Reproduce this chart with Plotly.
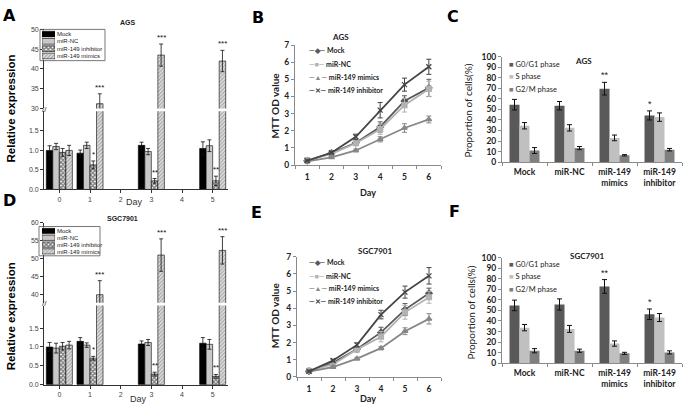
import plotly.graph_objects as go

W, H = 689, 415

ARIAL = "Liberation Sans, Arial, sans-serif"
CALI = "Lato, Open Sans, sans-serif"

# ---------- A / D : miR-149 relative expression ----------
days = [0, 1, 3, 5]
expr_names = ["Mock", "miR-NC", "miR-149 inhibitor", "miR-149 mimics"]

ags_mock = [1.00, 0.93, 1.13, 1.05]
ags_mock_err = [0.12, 0.08, 0.08, 0.17]
ags_nc = [1.10, 1.13, 0.97, 1.12]
ags_nc_err = [0.08, 0.08, 0.08, 0.15]
ags_inh = [0.95, 0.63, 0.22, 0.22]
ags_inh_err = [0.10, 0.10, 0.06, 0.12]
ags_mim = [1.00, 31.2, 43.5, 42.0]
ags_mim_err = [0.13, 2.5, 2.8, 2.7]

sgc_mock = [1.00, 1.15, 1.08, 1.10]
sgc_mock_err = [0.12, 0.10, 0.08, 0.15]
sgc_nc = [0.97, 1.05, 1.12, 1.07]
sgc_nc_err = [0.13, 0.06, 0.08, 0.13]
sgc_inh = [1.02, 0.70, 0.28, 0.22]
sgc_inh_err = [0.10, 0.05, 0.05, 0.05]
sgc_mim = [1.05, 40.0, 51.0, 52.3]
sgc_mim_err = [0.10, 3.9, 4.5, 3.8]

inh_stars = ["", "*", "**", "**"]
mim_stars = ["", "***", "***", "***"]

# ---------- B / E : MTT assay ----------
mtt_days = ["1", "2", "3", "4", "5", "6"]
mtt_names = ["Mock", "miR-NC", "miR-149 mimics", "miR-149 inhibitor"]

ags_mtt_mock = [0.25, 0.70, 1.30, 2.22, 3.74, 4.50]
ags_mtt_mock_err = [0.03, 0.05, 0.10, 0.30, 0.30, 0.50]
ags_mtt_nc = [0.28, 0.65, 1.27, 2.09, 3.49, 4.44]
ags_mtt_nc_err = [0.03, 0.05, 0.10, 0.30, 0.40, 0.45]
ags_mtt_mim = [0.22, 0.45, 0.85, 1.50, 2.16, 2.66]
ags_mtt_mim_err = [0.03, 0.05, 0.08, 0.15, 0.25, 0.20]
ags_mtt_inh = [0.25, 0.72, 1.65, 3.20, 4.69, 5.73]
ags_mtt_inh_err = [0.03, 0.06, 0.15, 0.45, 0.38, 0.44]

sgc_mtt_mock = [0.33, 0.82, 1.62, 2.59, 3.92, 4.87]
sgc_mtt_mock_err = [0.04, 0.08, 0.15, 0.30, 0.35, 0.30]
sgc_mtt_nc = [0.35, 0.72, 1.60, 2.34, 3.76, 4.64]
sgc_mtt_nc_err = [0.04, 0.06, 0.15, 0.30, 0.40, 0.35]
sgc_mtt_mim = [0.30, 0.57, 1.06, 1.67, 2.66, 3.38]
sgc_mtt_mim_err = [0.03, 0.05, 0.08, 0.10, 0.20, 0.30]
sgc_mtt_inh = [0.32, 0.95, 1.86, 3.63, 4.94, 5.89]
sgc_mtt_inh_err = [0.04, 0.08, 0.12, 0.25, 0.35, 0.48]

# ---------- C / F : cell cycle ----------
groups = ["Mock", "miR-NC", "miR-149<br>mimics", "miR-149<br>inhibitor"]
phase_names = ["G0/G1 phase", "S phase", "G2/M phase"]

ags_g1 = [54.5, 53.5, 69.7, 44.3]
ags_g1_err = [5.0, 4.0, 6.0, 4.3]
ags_s = [34.5, 32.5, 23.0, 42.7]
ags_s_err = [3.0, 3.0, 2.7, 4.0]
ags_g2 = [11.0, 13.3, 6.5, 11.8]
ags_g2_err = [2.8, 1.5, 0.6, 1.2]

sgc_g1 = [54.8, 55.7, 72.8, 46.4]
sgc_g1_err = [5.0, 5.3, 6.5, 5.0]
sgc_s = [33.7, 32.5, 18.6, 43.3]
sgc_s_err = [3.0, 3.3, 2.5, 3.8]
sgc_g2 = [11.8, 11.8, 9.3, 10.2]
sgc_g2_err = [2.0, 1.5, 1.0, 1.5]

g1_stars = ["", "", "**", "*"]


def xdom(left, right):
    return [left / W, right / W]


def ydom(top, bottom):
    return [1 - bottom / H, 1 - top / H]


expr_styles = [
    dict(color="black", line=dict(color="black", width=0.6)),
    dict(color="#c8c8c8", line=dict(color="black", width=0.6)),
    dict(color="white", line=dict(color="black", width=0.6),
         pattern=dict(shape="x", fgcolor="#000", bgcolor="white", size=3, solidity=0.7)),
    dict(color="#dcdcdc", line=dict(color="black", width=0.6),
         pattern=dict(shape="/", fgcolor="#555", bgcolor="#e2e2e2", size=2.6, solidity=0.4)),
]
mtt_styles = {
    "Mock": dict(color="#5a5a5a", symbol="diamond", glyph="◆"),
    "miR-NC": dict(color="#b2b2b2", symbol="square", glyph="■"),
    "miR-149 mimics": dict(color="#878787", symbol="triangle-up", glyph="▲"),
    "miR-149 inhibitor": dict(color="#444444", symbol="x-thin", glyph="✕"),
}
phase_colors = ["#595959", "#c0c0c0", "#7f7f7f"]

fig = go.Figure()
ann = []
shapes = []

BAR_W = 0.2125


def expr_panel(series, errs, xa, ya_low, ya_up):
    for i, (vals, err) in enumerate(zip(series, errs)):
        off = (i - 2) * BAR_W
        for ya in (ya_low, ya_up):
            fig.add_trace(go.Bar(
                x=days, y=vals, width=BAR_W, offset=off,
                marker=expr_styles[i], xaxis=xa, yaxis=ya,
                error_y=dict(type="data", array=err, color="#111", thickness=0.8, width=2),
            ))
    # significance marks
    for i, stars, ya in ((2, inh_stars, ya_low), (3, mim_stars, ya_up)):
        for d, v, e, s in zip(days, series[i], errs[i], stars):
            if s:
                ann.append(dict(x=d + (i - 2) * BAR_W + BAR_W / 2, y=v + e, xref=xa, yref=ya,
                                text=s, showarrow=False, yanchor="bottom", yshift=0,
                                font=dict(family=ARIAL, size=8, color="#111")))


expr_panel([ags_mock, ags_nc, ags_inh, ags_mim],
           [ags_mock_err, ags_nc_err, ags_inh_err, ags_mim_err], "x", "y", "y2")
expr_panel([sgc_mock, sgc_nc, sgc_inh, sgc_mim],
           [sgc_mock_err, sgc_nc_err, sgc_inh_err, sgc_mim_err], "x4", "y5", "y6")

# legend swatches for A / D (real patterned bars)
for xa, ya in (("x7", "y9"), ("x8", "y10")):
    for i, name in enumerate(expr_names):
        fig.add_trace(go.Bar(y=[name], x=[1], orientation="h", width=0.78,
                             marker=expr_styles[i], xaxis=xa, yaxis=ya))


def mtt_panel(series, errs, xa, ya):
    for name, vals, err in zip(mtt_names, series, errs):
        st = mtt_styles[name]
        fig.add_trace(go.Scatter(
            x=mtt_days, y=vals, mode="lines+markers", xaxis=xa, yaxis=ya,
            line=dict(color=st["color"], width=1.8),
            marker=dict(symbol=st["symbol"], size=5, color=st["color"],
                        line=dict(color=st["color"], width=1.2)),
            error_y=dict(type="data", array=err, color=st["color"], thickness=1, width=2.5),
        ))


mtt_panel([ags_mtt_mock, ags_mtt_nc, ags_mtt_mim, ags_mtt_inh],
          [ags_mtt_mock_err, ags_mtt_nc_err, ags_mtt_mim_err, ags_mtt_inh_err], "x2", "y3")
mtt_panel([sgc_mtt_mock, sgc_mtt_nc, sgc_mtt_mim, sgc_mtt_inh],
          [sgc_mtt_mock_err, sgc_mtt_nc_err, sgc_mtt_mim_err, sgc_mtt_inh_err], "x5", "y7")

PH_W = 0.222


def cycle_panel(series, errs, xa, ya):
    for i, (vals, err) in enumerate(zip(series, errs)):
        off = -1.5 * PH_W + i * PH_W
        fig.add_trace(go.Bar(
            x=groups, y=vals, width=PH_W, offset=off, xaxis=xa, yaxis=ya,
            marker=dict(color=phase_colors[i], line=dict(width=0)),
            error_y=dict(type="data", array=err, color="#111", thickness=1, width=2.5),
        ))
    for k, (v, e, s) in enumerate(zip(series[0], errs[0], g1_stars)):
        if s:
            ann.append(dict(x=k - 1.5 * PH_W + PH_W / 2, y=v + e, xref=xa, yref=ya, text=s,
                            showarrow=False, yanchor="bottom", yshift=0,
                            font=dict(family=ARIAL, size=9, color="#222")))


cycle_panel([ags_g1, ags_s, ags_g2], [ags_g1_err, ags_s_err, ags_g2_err], "x3", "y4")
cycle_panel([sgc_g1, sgc_s, sgc_g2], [sgc_g1_err, sgc_s_err, sgc_g2_err], "x6", "y8")

origin_ax = dict(showgrid=False, zeroline=False, showline=True, linecolor="#333", linewidth=0.8,
                 ticks="outside", ticklen=3, tickcolor="#333", tickwidth=0.8,
                 tickfont=dict(family=ARIAL, size=7, color="#444"))
excel_ax = dict(showgrid=False, zeroline=False, showline=True, linecolor="#8a8a8a", linewidth=1,
                ticks="outside", ticklen=3, tickcolor="#8a8a8a", tickwidth=1,
                tickfont=dict(family=CALI, size=8.5, color="#222", weight="bold"))
legend_x = dict(visible=False, range=[0, 1], fixedrange=True)
legend_y = dict(type="category", autorange="reversed", side="right", showgrid=False,
                zeroline=False, showline=False, ticks="", ticklabelstandoff=1,
                tickmode="array", tickvals=expr_names, ticktext=expr_names,
                tickfont=dict(family=ARIAL, size=6, color="#222"))

layout_axes = dict(
    # A
    xaxis=dict(domain=xdom(44, 228), anchor="y", range=[-0.5, 5.5], tickvals=[0, 1, 2, 3, 4, 5], **origin_ax),
    yaxis=dict(domain=ydom(109, 189), anchor="x", range=[0, 2.0], tickvals=[0, 0.5, 1, 1.5],
               tickformat=".1f", **origin_ax),
    yaxis2=dict(domain=ydom(25, 106), anchor="x", range=[30, 50], tickvals=[30, 35, 40, 45, 50], **origin_ax),
    # B
    xaxis2=dict(domain=xdom(295, 441), anchor="y3", type="category", tickson="boundaries",
                range=[-0.5, 5.5], ticklabelstandoff=4, **excel_ax),
    yaxis3=dict(domain=ydom(41, 164), anchor="x2", range=[0, 7], dtick=1, **excel_ax),
    # C
    xaxis3=dict(domain=xdom(502, 682), anchor="y4", type="category", tickson="boundaries",
                range=[-0.5, 3.5], ticklabelstandoff=2, **excel_ax),
    yaxis4=dict(domain=ydom(53, 161), anchor="x3", range=[0, 100], dtick=10, **excel_ax),
    # D
    xaxis4=dict(domain=xdom(44, 228), anchor="y5", range=[-0.5, 5.5], tickvals=[0, 1, 2, 3, 4, 5], **origin_ax),
    yaxis5=dict(domain=ydom(308, 389), anchor="x4", range=[0, 2.1], tickvals=[0, 0.5, 1, 1.5],
                tickformat=".1f", **origin_ax),
    yaxis6=dict(domain=ydom(223, 305), anchor="x4", range=[37.8, 60], tickvals=[40, 45, 50, 55, 60], **origin_ax),
    # E
    xaxis5=dict(domain=xdom(297, 441), anchor="y7", type="category", tickson="boundaries",
                range=[-0.5, 5.5], ticklabelstandoff=4, **excel_ax),
    yaxis7=dict(domain=ydom(258, 381), anchor="x5", range=[0, 7], dtick=1, **excel_ax),
    # F
    xaxis6=dict(domain=xdom(502, 682), anchor="y8", type="category", tickson="boundaries",
                range=[-0.5, 3.5], ticklabelstandoff=2, **excel_ax),
    yaxis8=dict(domain=ydom(259, 367), anchor="x6", range=[0, 100], dtick=10, **excel_ax),
    # legend swatch axes for A / D
    xaxis7=dict(domain=xdom(42, 55), anchor="y9", **legend_x),
    yaxis9=dict(domain=ydom(26, 56), anchor="x7", **legend_y),
    xaxis8=dict(domain=xdom(42, 55), anchor="y10", **legend_x),
    yaxis10=dict(domain=ydom(228, 256), anchor="x8", **legend_y),
)


def paper_text(x, y, text, size, family=ARIAL, color="#222", weight="normal", angle=0, xanchor="center"):
    ann.append(dict(x=x / W, y=1 - y / H, xref="paper", yref="paper", text=text, showarrow=False,
                    textangle=angle, xanchor=xanchor, yanchor="middle",
                    font=dict(family=family, size=size, color=color, weight=weight)))


# panel letters
for letter, lx, ly in (("A", 9, 11), ("B", 258, 13), ("C", 453, 12),
                       ("D", 9, 200), ("E", 256, 213), ("F", 454, 212)):
    paper_text(lx, ly, letter, 16, family="DejaVu Sans", color="black", weight="bold")

# titles
paper_text(128, 18, "AGS", 7, weight="bold")
paper_text(122, 219, "SGC7901", 7, weight="bold")
paper_text(340, 33, "AGS", 8, family=CALI, weight="bold")
paper_text(375, 252, "SGC7901", 8, family=CALI, weight="bold")
paper_text(583, 57, "AGS", 8, family=CALI, weight="bold")
paper_text(587, 257, "SGC7901", 8, family=CALI, weight="bold")

# axis titles
paper_text(11, 106, "Relative expression", 11.5, color="black", weight="bold", angle=-90)
paper_text(11, 319, "Relative expression", 11.5, color="black", weight="bold", angle=-90)
paper_text(134, 202, "Day", 9, color="#333")
paper_text(138, 404, "Day", 9, color="#333")
paper_text(275, 103, "MTT OD value", 10, family=CALI, weight="bold", angle=-90)
paper_text(275, 318, "MTT OD value", 10, family=CALI, weight="bold", angle=-90)
paper_text(368, 192, "Day", 9, family=CALI, weight="bold")
paper_text(368, 403, "Day", 9, family=CALI, weight="bold")
paper_text(468, 108, "Proportion of cells(%)", 10, family=CALI, angle=-90)
paper_text(471, 315, "Proportion of cells(%)", 10, family=CALI, angle=-90)

# axis breaks
paper_text(44, 107, "//", 8, color="#333")
paper_text(44, 306, "//", 8, color="#333")

# legends B / E
for top in (47, 264):
    for k, name in enumerate(mtt_names):
        st = mtt_styles[name]
        paper_text(307, top + k * 13.2,
                   f"<span style='color:{st['color']}'>—{st['glyph']}—</span> {name}",
                   7, family=CALI, weight="bold", xanchor="left")

# legends C / F
for top in (61, 266):
    for k, name in enumerate(phase_names):
        paper_text(507, top + k * 12.7,
                   f"<span style='color:{phase_colors[k]}'>■</span> {name}",
                   7.5, family=CALI, xanchor="left")

# legend frames A / D
for x0, y0, x1, y1 in ((40, 25, 105, 57), (39, 227, 100, 257)):
    shapes.append(dict(type="rect", xref="paper", yref="paper", x0=x0 / W, x1=x1 / W,
                       y0=1 - y1 / H, y1=1 - y0 / H, line=dict(color="#555", width=0.8)))

fig.update_layout(
    width=W, height=H, margin=dict(l=0, r=0, t=0, b=0),
    paper_bgcolor="white", plot_bgcolor="white", showlegend=False,
    annotations=ann, shapes=shapes, **layout_axes,
)

# the page body has a default 8px margin; drop it so the figure sits at the window origin
fig.write_html("out.html", config={"displayModeBar": False},
               post_script="document.body.style.margin='0';")
